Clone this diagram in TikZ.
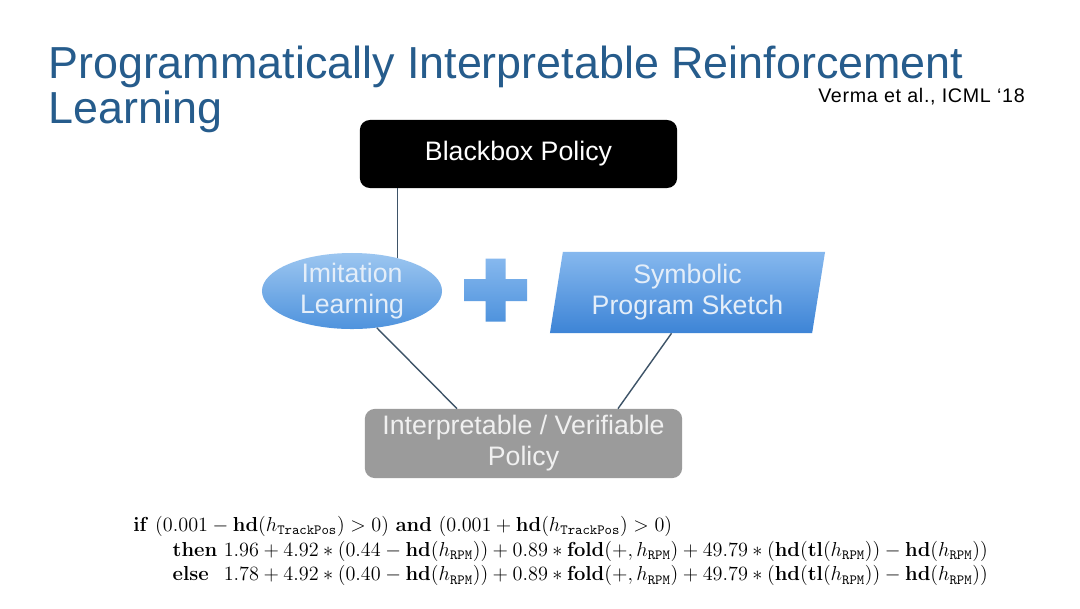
\documentclass[tikz,border=0pt]{standalone}
\usepackage{fix-cm}
\usepackage[no-math]{fontspec}
\usepackage{tikz}
\usetikzlibrary{positioning,calc,shapes.geometric}
\newfontfamily\slidefont{Liberation Sans}
\newfontfamily\citefont[LetterSpace=3.5]{Liberation Sans}
\definecolor{headline}{HTML}{265C8C}
\definecolor{wire}    {HTML}{3E5468}
\definecolor{blobtop} {HTML}{9CC6F0}
\definecolor{blobbot} {HTML}{4F93DD}
\definecolor{skettop} {HTML}{86B8EE}
\definecolor{sketbot} {HTML}{3D84D6}
\definecolor{onblue}  {HTML}{E4EEF9}
\definecolor{slate}   {HTML}{9B9B9B}
\definecolor{onslate} {HTML}{F0F0F0}

\begin{document}
\begin{tikzpicture}[x=0.025cm,y=-0.025cm,
  font=\slidefont\fontsize{19}{22}\selectfont,
  box/.style={rounded corners=0.25cm,minimum width=7.93cm,minimum height=1.7cm,
              align=center,inner sep=0pt},
  blob/.style={ellipse,top color=blobtop,bottom color=blobbot,text=onblue,
               minimum width=4.5cm,minimum height=1.9cm,inner xsep=0pt,
               inner ysep=-5pt,align=center},
  sketch/.style={trapezium,trapezium left angle=77,trapezium right angle=103,
                 trapezium stretches body,top color=skettop,bottom color=sketbot,
                 text=onblue,minimum width=6.875cm,minimum height=2.025cm,
                 inner sep=0pt,align=center},
  link/.style={draw=wire,line width=1pt}]
\useasboundingbox[fill=white] (0,0) rectangle (1080,608);

% heading
\node[font=\slidefont\fontsize{31.9}{33}\selectfont,text=headline,anchor=base west,
      inner sep=0pt] (title1) at (48,78) {Programmatically Interpretable Reinforcement};
\node[font=\slidefont\fontsize{31.9}{33}\selectfont,text=headline,anchor=base west,
      inner sep=0pt] (title2) at ($(title1.base west)+(0,45)$) {Learning};
\node[font=\citefont\fontsize{14}{17}\selectfont,anchor=base east,inner sep=0pt]
  (cite) at (1025,102) {Verma et al., ICML ‘18};

% boxes
\node[box,fill=black,text=white] (bb) at (518.5,154) {Blackbox Policy};
\node[blob] (il) at (352,291) {Imitation\\Learning};
\node[sketch] (ps) at (687.5,292.5) {Symbolic\\Program Sketch};
\node[box,fill=slate,text=onslate,minimum height=1.73cm] (ip) at (523.5,443.5)
  {Interpretable / Verifiable\\Policy};

% plus sign
\shade[top color=skettop,bottom color=blobbot,shift={(495.5,290)}]
  (-10,-31.5) -- (10,-31.5) -- (10,-11) -- (31.5,-11) -- (31.5,11) -- (10,11)
  -- (10,31.5) -- (-10,31.5) -- (-10,11) -- (-31.5,11) -- (-31.5,-11)
  -- (-10,-11) -- cycle;

% connectors
\draw[link] (il.36) -- (il.36 |- bb.south);
\draw[link] (il.-56) -- ($(ip.north)+(-66.5,0)$);
\draw[link] ($(ps.south)+(-16,0)$) -- ($(ip.north)+(94.5,0)$);

% learned program
\node[font=\rmfamily\fontsize{14.4}{17.6}\selectfont,align=left,anchor=north west,
      inner sep=0pt] (prog) at (133,516)
  {$\mathbf{if}\ (0.001-\mathbf{hd}(h_{\mathtt{TrackPos}})>0)\ \mathbf{and}\
    (0.001+\mathbf{hd}(h_{\mathtt{TrackPos}})>0)$\\
   \hspace*{28pt}$\mathbf{then}\ 1.96+4.92*(0.44-\mathbf{hd}(h_{\mathtt{RPM}}))
    +0.89*\mathbf{fold}(+,h_{\mathtt{RPM}})
    +49.79*(\mathbf{hd}(\mathbf{tl}(h_{\mathtt{RPM}}))-\mathbf{hd}(h_{\mathtt{RPM}}))$\\
   \hspace*{28pt}\rlap{$\mathbf{else}$}$\phantom{\mathbf{then}}\ 1.78+4.92*(0.40
    -\mathbf{hd}(h_{\mathtt{RPM}}))+0.89*\mathbf{fold}(+,h_{\mathtt{RPM}})
    +49.79*(\mathbf{hd}(\mathbf{tl}(h_{\mathtt{RPM}}))-\mathbf{hd}(h_{\mathtt{RPM}}))$};
\end{tikzpicture}
\end{document}
